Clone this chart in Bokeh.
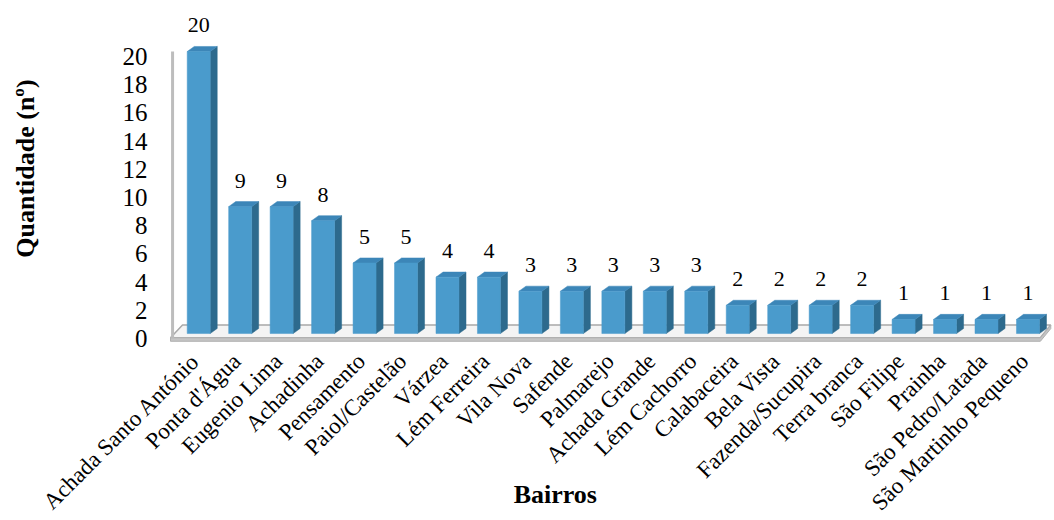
import math
from bokeh.plotting import figure
from bokeh.models import Range1d, ColumnDataSource
from bokeh.core.properties import value
from bokeh.embed import file_html
from bokeh.resources import INLINE

# ---- data ----
bairros = ["Achada Santo António", "Ponta d'Água", "Eugenio Lima", "Achadinha",
           "Pensamento", "Paiol/Castelão", "Várzea", "Lém Ferreira", "Vila Nova",
           "Safende", "Palmarejo", "Achada Grande", "Lém Cachorro", "Calabaceira",
           "Bela Vista", "Fazenda/Sucupira", "Terra branca", "São Filipe", "Prainha",
           "São Pedro/Latada", "São Martinho Pequeno"]
quantidade = [20, 9, 9, 8, 5, 5, 4, 4, 3, 3, 3, 3, 3, 2, 2, 2, 2, 1, 1, 1, 1]
y_ticks = [0, 2, 4, 6, 8, 10, 12, 14, 16, 18, 20]
y_title = "Quantidade (nº)"
x_title = "Bairros"

SERIF = "Liberation Serif"
FRONT = "#4a9bcc"
SIDE = "#2d6a8d"
TOP = "#3c86b8"

W, H = 1054, 520
n = len(bairros)
xs = list(range(n))
hw, dx, dy = 0.277, 0.17, 0.36

p = figure(width=W, height=H, output_backend="svg", toolbar_location=None,
           x_range=Range1d(-4.78, n - 0.36), y_range=Range1d(-13.26, 23.62),
           min_border_left=0, min_border_right=0, min_border_top=0,
           min_border_bottom=0, x_axis_location=None, y_axis_location=None)
p.grid.visible = False
p.outline_line_color = None
p.background_fill_color = "white"

# y tick labels (value axis), drawn through the plot's scales
p.text(x=[-1.235] * len(y_ticks), y=[t - 0.355 for t in y_ticks],
       text=[str(t) for t in y_ticks], text_align="right", text_baseline="middle",
       text_font=value(SERIF), text_font_size="25px", text_color="black")

# floor and wall
fl, fr = -0.68, n - 0.7
bl, br = -0.39, n - 0.45
p.patch([fl, fr, br, bl], [-0.3, -0.3, 0.6, 0.6], fill_color="#f4f4f4",
        line_color="#a8a8a8", line_width=1.5)
p.patch([fl, fr, br, br, fr, fl], [-0.3, -0.3, 0.6, 0.35, -0.55, -0.55],
        fill_color="#c4c4c4", line_color="#b0b0b0", line_width=1)
p.segment(x0=[-0.63], y0=[-0.3], x1=[-0.63], y1=[y_ticks[-1]],
          line_color="#bdbdbd", line_width=3)

# 3D bars
src = ColumnDataSource(dict(x=xs, v=quantidade,
                            left=[x - hw for x in xs], right=[x + hw for x in xs],
                            lab=[str(v) for v in quantidade],
                            ly=[v + 1.85 for v in quantidade]))
side_x = [[x + hw, x + hw + dx, x + hw + dx, x + hw] for x in xs]
side_y = [[0, dy, v + dy, v] for v in quantidade]
top_x = [[x - hw, x + hw, x + hw + dx, x - hw + dx] for x in xs]
top_y = [[v, v, v + dy, v + dy] for v in quantidade]
p.patches(side_x, side_y, fill_color=SIDE, line_color=SIDE, line_width=0.5)
p.patches(top_x, top_y, fill_color=TOP, line_color=TOP, line_width=0.5)
p.quad(left="left", right="right", bottom=0, top="v", source=src,
       fill_color=FRONT, line_color=FRONT, line_width=0.5)

# value labels
p.text(x="x", y="ly", text="lab", source=src, text_align="center",
       text_baseline="alphabetic", text_font=value(SERIF),
       text_font_size="22px", text_color="black")

# category labels (rotated 45°)
lsrc = ColumnDataSource(dict(x=[x - 0.08 for x in xs], y=[-1.69] * n, t=bairros))
p.text(x="x", y="y", text="t", source=lsrc, angle=math.pi / 4,
       text_align="right", text_baseline="middle", text_font=value(SERIF),
       text_font_size="23px", text_color="black")

# axis titles
p.text(x=[-4.18], y=[11.7], text=[y_title], angle=math.pi / 2, text_align="center",
       text_baseline="middle", text_font=value(SERIF), text_font_style="bold",
       text_font_size="26px", text_color="black")
p.text(x=[8.6], y=[-11.4], text=[x_title], text_align="center",
       text_baseline="middle", text_font=value(SERIF), text_font_style="bold",
       text_font_size="26px", text_color="black")

open("out.html", "w").write(file_html(p, INLINE))
